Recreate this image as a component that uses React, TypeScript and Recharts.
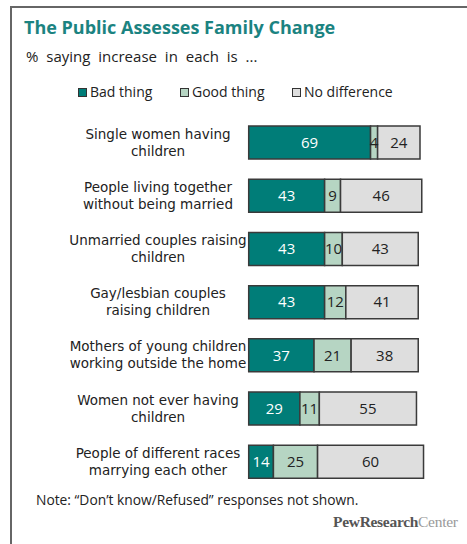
import React from "react";
import { BarChart, Bar, XAxis, YAxis, LabelList } from "recharts";

const categories = [
  "Single women having\nchildren",
  "People living together\nwithout being married",
  "Unmarried couples raising\nchildren",
  "Gay/lesbian couples\nraising children",
  "Mothers of young children\nworking outside the home",
  "Women not ever having\nchildren",
  "People of different races\nmarrying each other",
];
const badThing = [69, 43, 43, 43, 37, 29, 14];
const goodThing = [4, 9, 10, 12, 21, 11, 25];
const noDifference = [24, 46, 43, 41, 38, 55, 60];
const seriesNames = ["Bad thing", "Good thing", "No difference"];

const data = categories.map((c, i) => ({
  name: c,
  bad: badThing[i],
  good: goodThing[i],
  none: noDifference[i],
}));

const FONT = "'Open Sans', 'Noto Sans', sans-serif";
const LABEL_FONT = "'DejaVu Sans', sans-serif";
const TEAL = "#007D78";
const GREEN = "#B6D5C3";
const GREY = "#DEDEDE";
const STROKE = "#3a3a3a";

const CategoryTick = (props: any) => {
  const { y, payload } = props;
  const lines = String(payload.value).split("\n");
  return (
    <g>
      {lines.map((l, i) => (
        <text
          key={i}
          x={158}
          y={y - 4 + i * 17}
          textAnchor="middle"
          fontFamily={LABEL_FONT}
          fontSize={13.5}
          fill="#222"
        >
          {l}
        </text>
      ))}
    </g>
  );
};

const Swatch = ({ color, x }: { color: string; x: number }) => (
  <div
    style={{
      position: "absolute",
      left: x,
      top: 88,
      width: 7,
      height: 7,
      background: color,
      border: "1px solid #333",
    }}
  />
);

export default function App() {
  return (
    <div
      style={{
        position: "absolute",
        left: 0,
        top: 0,
        width: 467,
        height: 544,
        background: "#fff",
        fontFamily: FONT,
        overflow: "hidden",
      }}
    >
      <div style={{ position: "absolute", left: 10, top: 6, width: 460, height: 2, background: "#666" }} />
      <div style={{ position: "absolute", left: 10, top: 6, width: 2, height: 540, background: "#666" }} />
      <div
        style={{
          position: "absolute",
          left: 24,
          top: 15,
          fontSize: 18,
          fontWeight: 700,
          color: "#1B8381",
          whiteSpace: "nowrap",
        }}
      >
        The Public Assesses Family Change
      </div>
      <div
        style={{
          position: "absolute",
          left: 26,
          top: 46,
          fontSize: 15,
          color: "#222",
          wordSpacing: 4,
          whiteSpace: "nowrap",
        }}
      >
        % saying increase in each is ...
      </div>
      <Swatch color={TEAL} x={78} />
      <Swatch color={GREEN} x={180} />
      <Swatch color={GREY} x={292} />
      <div style={{ position: "absolute", left: 90, top: 82, fontSize: 14, color: "#222", whiteSpace: "nowrap" }}>
        {seriesNames[0]}
      </div>
      <div style={{ position: "absolute", left: 192, top: 82, fontSize: 14, color: "#222", whiteSpace: "nowrap" }}>
        {seriesNames[1]}
      </div>
      <div style={{ position: "absolute", left: 304, top: 82, fontSize: 14, color: "#222", whiteSpace: "nowrap" }}>
        {seriesNames[2]}
      </div>

      <div style={{ position: "absolute", left: 0, top: 0 }}>
        <BarChart
          width={467}
          height={544}
          data={data}
          layout="vertical"
          margin={{ top: 116, right: 41.7, left: 0, bottom: 55.7 }}
          barCategoryGap="19%"
        >
          <XAxis type="number" domain={[0, 100]} hide />
          <YAxis
            type="category"
            dataKey="name"
            width={248.7}
            axisLine={false}
            tickLine={false}
            tick={<CategoryTick />}
            interval={0}
          />
          <Bar dataKey="bad" stackId="a" fill={TEAL} stroke={STROKE} strokeWidth={1.5} isAnimationActive={false}>
            <LabelList dataKey="bad" position="center" fill="#fff" fontSize={15} fontFamily={FONT} />
          </Bar>
          <Bar dataKey="good" stackId="a" fill={GREEN} stroke={STROKE} strokeWidth={1.5} isAnimationActive={false}>
            <LabelList dataKey="good" position="center" fill="#222" fontSize={15} fontFamily={FONT} />
          </Bar>
          <Bar dataKey="none" stackId="a" fill={GREY} stroke={STROKE} strokeWidth={1.5} isAnimationActive={false}>
            <LabelList dataKey="none" position="center" fill="#222" fontSize={15} fontFamily={FONT} />
          </Bar>
        </BarChart>
      </div>

      <div
        style={{
          position: "absolute",
          left: 36,
          top: 490,
          fontSize: 13.8,
          color: "#222",
          whiteSpace: "nowrap",
        }}
      >
        Note: “Don’t know/Refused” responses not shown.
      </div>
      <div
        style={{
          position: "absolute",
          left: 333,
          top: 513,
          fontSize: 15.5,
          fontFamily: "'Liberation Serif', serif",
          whiteSpace: "nowrap",
          letterSpacing: -0.3,
        }}
      >
        <span style={{ color: "#555", fontWeight: 700 }}>PewResearch</span>
        <span style={{ color: "#999" }}>Center</span>
      </div>
    </div>
  );
}
